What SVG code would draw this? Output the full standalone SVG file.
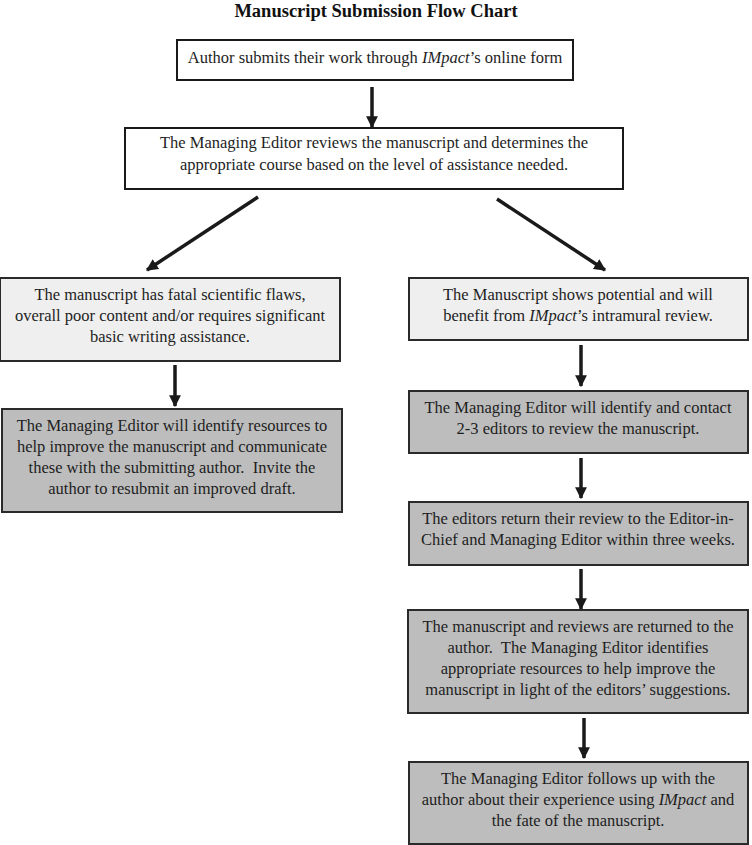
<svg xmlns="http://www.w3.org/2000/svg" width="752" height="845" viewBox="0 0 752 845">
<style>
text{font-family:"Liberation Serif","Times New Roman",serif;font-size:16.5px;fill:#1e1e1e;text-anchor:middle}
.title{font-weight:bold;font-size:18.5px;fill:#111}
.white{fill:#fff;stroke:#1a1a1a;stroke-width:2}
.light{fill:#efefef;stroke:#2a2a2a;stroke-width:2}
.gray{fill:#bdbdbd;stroke:#2a2a2a;stroke-width:2}
.conn{stroke:#1a1a1a;stroke-width:3.5;fill:none;marker-end:url(#ah)}
.i{font-style:italic}
</style>
<defs>
<marker id="ah" viewBox="0 0 10 10" refX="9" refY="5" markerWidth="3.4" markerHeight="3.4" orient="auto" markerUnits="strokeWidth">
<path d="M0,0 L10,5 L0,10 z" fill="#1a1a1a"/>
</marker>
</defs>
<text class="title" x="376" y="17">Manuscript Submission Flow Chart</text>
<g id="connectors">
<line class="conn" x1="372" y1="87" x2="372" y2="127"/>
<line class="conn" x1="258" y1="197" x2="147" y2="270"/>
<line class="conn" x1="497" y1="199" x2="605" y2="270"/>
<line class="conn" x1="175" y1="365" x2="175" y2="406"/>
<line class="conn" x1="581" y1="345" x2="581" y2="386"/>
<line class="conn" x1="581" y1="458" x2="581" y2="498"/>
<line class="conn" x1="581" y1="569" x2="581" y2="609"/>
<line class="conn" x1="584" y1="718" x2="584" y2="758"/>
</g>
<g id="submit">
<rect class="white" x="177" y="40" width="396" height="40"/>
<text x="375" y="63">Author submits their work through <tspan class="i">IMpact</tspan>’s online form</text>
</g>
<g id="review">
<rect class="white" x="125" y="128" width="498" height="61"/>
<text x="374" y="148">The Managing Editor reviews the manuscript and determines the</text>
<text x="374" y="170">appropriate course based on the level of assistance needed.</text>
</g>
<g id="flawed">
<rect class="light" x="0" y="278" width="340" height="83"/>
<text x="170" y="300">The manuscript has fatal scientific flaws,</text>
<text x="170" y="321">overall poor content and/or requires significant</text>
<text x="170" y="342">basic writing assistance.</text>
</g>
<g id="resources">
<rect class="gray" x="2" y="409" width="340" height="103"/>
<text x="172" y="431">The Managing Editor will identify resources to</text>
<text x="172" y="452">help improve the manuscript and communicate</text>
<text x="172" y="473" xml:space="preserve">these with the submitting author.  Invite the</text>
<text x="172" y="494">author to resubmit an improved draft.</text>
</g>
<g id="potential">
<rect class="light" x="409" y="278" width="339" height="62"/>
<text x="578" y="300">The Manuscript shows potential and will</text>
<text x="578" y="321">benefit from <tspan class="i">IMpact</tspan>’s intramural review.</text>
</g>
<g id="contact">
<rect class="gray" x="409" y="391" width="339" height="62"/>
<text x="578" y="413">The Managing Editor will identify and contact</text>
<text x="578" y="434">2-3 editors to review the manuscript.</text>
</g>
<g id="return">
<rect class="gray" x="409" y="502" width="339" height="63"/>
<text x="578" y="524">The editors return their review to the Editor-in-</text>
<text x="578" y="545">Chief and Managing Editor within three weeks.</text>
</g>
<g id="returned">
<rect class="gray" x="408" y="610" width="340" height="103"/>
<text x="578" y="632">The manuscript and reviews are returned to the</text>
<text x="578" y="653" xml:space="preserve">author.  The Managing Editor identifies</text>
<text x="578" y="674">appropriate resources to help improve the</text>
<text x="578" y="695">manuscript in light of the editors’ suggestions.</text>
</g>
<g id="followup">
<rect class="gray" x="409" y="762" width="339" height="82"/>
<text x="578" y="784">The Managing Editor follows up with the</text>
<text x="578" y="805">author about their experience using <tspan class="i">IMpact</tspan> and</text>
<text x="578" y="826">the fate of the manuscript.</text>
</g>
</svg>
